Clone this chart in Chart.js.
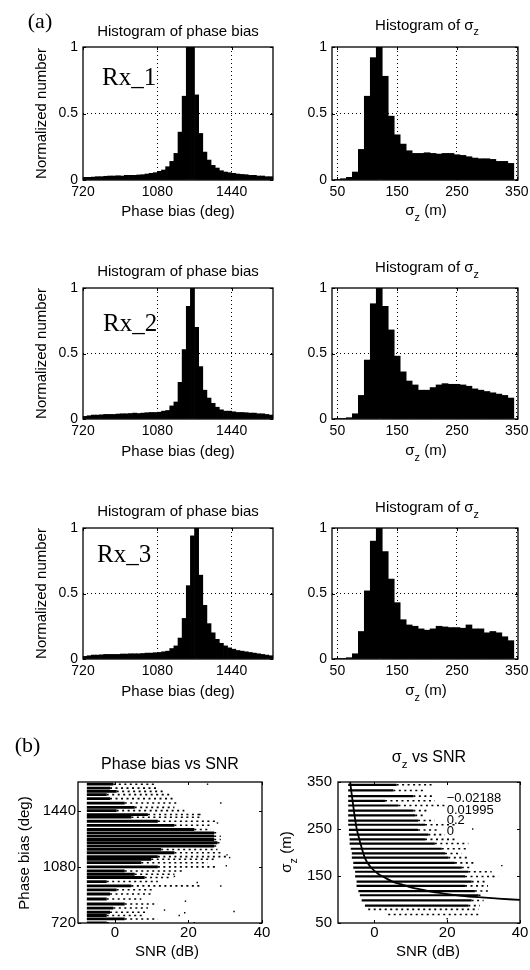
<!DOCTYPE html>
<html>
<head>
<meta charset="UTF-8">
<title>Phase bias and sigma_z</title>
<script src="https://cdn.jsdelivr.net/npm/chart.js@4.4.0/dist/chart.umd.min.js"></script>
<style>
  body { margin: 0; background: #fff; }
  #wrap { position: relative; width: 530px; height: 970px; }
  #wrap canvas { position: absolute; left: 0; top: 0; }
</style>
</head>
<body>
<div id="wrap">
  <canvas id="c1" width="530" height="970"></canvas>
  <canvas id="c2" width="530" height="970"></canvas>
  <canvas id="c3" width="530" height="970"></canvas>
  <canvas id="c4" width="530" height="970"></canvas>
  <canvas id="c5" width="530" height="970"></canvas>
  <canvas id="c6" width="530" height="970"></canvas>
  <canvas id="c7" width="530" height="970"></canvas>
  <canvas id="c8" width="530" height="970"></canvas>
</div>
<script>
// histogram bins (bar centres)
const phaseBins = [730, 750, 770, 790, 810, 830, 850, 870, 890, 910, 930, 950, 970, 990, 1010, 1030,
  1050, 1070, 1090, 1110, 1130, 1150, 1170, 1190, 1210, 1230, 1250, 1270, 1290, 1310, 1330, 1350,
  1370, 1390, 1410, 1430, 1450, 1470, 1490, 1510, 1530, 1550, 1570, 1590, 1610, 1630]
const sigmaBins = [50, 60, 70, 80, 90, 100, 110, 120, 130, 140, 150, 160, 170, 180, 190, 200,
  210, 220, 230, 240, 250, 260, 270, 280, 290, 300, 310, 320, 330, 340]

// normalized counts
const phaseRx1 = [0.02, 0.02, 0.022, 0.025, 0.025, 0.028, 0.03, 0.03, 0.032, 0.03,
  0.035, 0.035, 0.035, 0.038, 0.04, 0.045, 0.05, 0.055, 0.065, 0.075,
  0.1, 0.14, 0.2, 0.36, 0.63, 1, 1, 0.64, 0.35, 0.21,
  0.15, 0.11, 0.09, 0.07, 0.06, 0.055, 0.05, 0.045, 0.042, 0.04,
  0.035, 0.035, 0.03, 0.03, 0.025, 0.025]
const phaseRx2 = [0.02, 0.025, 0.03, 0.03, 0.032, 0.035, 0.035, 0.035, 0.038, 0.04,
  0.04, 0.042, 0.045, 0.042, 0.045, 0.048, 0.05, 0.05, 0.052, 0.06,
  0.065, 0.1, 0.13, 0.28, 0.53, 0.86, 1, 0.7, 0.4, 0.22,
  0.16, 0.12, 0.09, 0.07, 0.06, 0.06, 0.055, 0.05, 0.05, 0.048,
  0.045, 0.045, 0.04, 0.04, 0.035, 0.03]
const phaseRx3 = [0.02, 0.025, 0.03, 0.03, 0.032, 0.035, 0.035, 0.035, 0.035, 0.038,
  0.038, 0.04, 0.04, 0.04, 0.042, 0.045, 0.045, 0.048, 0.05, 0.055,
  0.06, 0.08, 0.1, 0.16, 0.31, 0.56, 0.94, 1, 0.64, 0.41,
  0.27, 0.2, 0.15, 0.12, 0.1, 0.085, 0.075, 0.065, 0.06, 0.055,
  0.05, 0.045, 0.04, 0.035, 0.03, 0.025]
const sigmaRx1 = [0.005, 0.01, 0.02, 0.06, 0.23, 0.63, 0.92, 1, 0.78, 0.48, 0.34, 0.27, 0.22, 0.2, 0.2,
  0.205, 0.2, 0.195, 0.2, 0.2, 0.19, 0.185, 0.175, 0.165, 0.16, 0.16, 0.155, 0.14, 0.14, 0.125]
const sigmaRx2 = [0.005, 0.005, 0.01, 0.04, 0.18, 0.45, 0.88, 1, 0.86, 0.68, 0.48, 0.36, 0.29, 0.26, 0.22,
  0.22, 0.24, 0.26, 0.27, 0.265, 0.265, 0.26, 0.25, 0.23, 0.22, 0.21, 0.2, 0.19, 0.18, 0.16]
const sigmaRx3 = [0.005, 0.005, 0.01, 0.04, 0.21, 0.52, 0.9, 1, 0.82, 0.61, 0.43, 0.3, 0.26, 0.25, 0.23,
  0.22, 0.23, 0.25, 0.245, 0.24, 0.24, 0.235, 0.26, 0.23, 0.23, 0.2, 0.21, 0.2, 0.17, 0.14]

// tick labels
const phaseTicks = [720, 1080, 1440]
const sigmaTicks = [50, 150, 250, 350]
const normTicks = [0, 0.5, 1]
const snrTicks = [0, 20, 40]

// phase bias vs SNR: rows of points (phase level, dense run end, sparse run end, in dB)
const phaseRowStart = -7.6
const phaseRows = [1611, 1586, 1565, 1544, 1518, 1490, 1462, 1441, 1416, 1399, 1373, 1347, 1320,
  1299, 1277, 1256, 1235, 1214, 1192, 1171, 1146, 1129, 1107, 1080, 1054, 1033, 1012, 986,
  958, 933, 906, 874, 842, 816, 789, 768, 746, 721]
const phaseRowDense = [-0.4, -1.3, 0.5, -2.2, -1.3, 2.7, 5.4, 0.5, 9.0, 4.5, 11.7, 16.2, 21.6,
  27.0, 27.0, 27.0, 27.9, 27.0, 12.6, 16.2, 11.7, 9.9, 7.2, 11.7, 2.7, 5.4, 8.1, -2.2,
  4.5, 0.5, -1.3, -2.2, 2.7, -0.4, -1.3, -2.2, 2.7, -2.2]
const phaseRowSparse = [10.8, 11.7, 13.5, 15.3, 16.2, 17.1, 16.2, 18.9, 23.4, 23.4, 27.9, 26.1, 26.1,
  28.0, 28.8, 28.8, 29.0, 28.0, 27.9, 28.8, 30.6, 27.0, 25.2, 27.9, 18.9, 16.2, 15.3, 11.7,
  23.4, 10.8, 9.9, 7.2, 11.7, 9.0, 9.0, 8.1, 11.7, -1.3]
const phaseOutSnr = [25.2, 28.8, 23.1, 27.9, 31.2, 30.3, 16.2, 22.4, 28.8, 19.2, 13.5, 32.4, 17.5, 21.6, 30.5, 19.0]
const phaseOutDeg = [1611, 1490, 1416, 1362, 1140, 1087, 1019, 980, 958, 860, 803, 794, 768, 722, 1157, 786]

// sigma_z vs SNR rows
const sigmaRows = [344, 332, 320, 310, 300, 289, 279, 268, 259, 248, 238, 228, 219, 208,
  198, 189, 178, 168, 159, 149, 138, 129, 118, 109, 98, 87, 79, 68]
const sigmaRowStart = [-7.2, -7.2, -7.2, -7.2, -7.2, -7.2, -7.2, -7.2, -7.2, -7.0, -7.0, -6.8, -6.8, -6.5,
  -6.2, -6.2, -5.8, -5.8, -5.3, -5.3, -4.9, -4.9, -4.4, -4.0, -3.5, -2.6, -1.7, 3.8]
const sigmaRowDense = [6.1, 5.2, 10.7, 2.9, 6.6, 10.7, 11.2, 12.0, 13.9, 12.0, 14.8, 13.9, 16.6, 18.5,
  19.4, 20.3, 22.1, 24.0, 25.8, 24.9, 26.7, 24.9, 27.6, 28.6, 26.7, 25.8, -1.7, 3.8]
const sigmaRowSparse = [15.7, 13.9, 16.6, 16.6, 19.4, 14.8, 13.9, 16.6, 22.1, 17.5, 19.4, 22.1, 25.8, 25.8,
  24.0, 25.8, 27.6, 27.0, 32.2, 34.0, 30.4, 31.2, 32.0, 30.0, 30.0, 29.0, 28.6, 29.5]
const sigmaOutSnr = [20.0, 32.7, 35.0, 27.0]
const sigmaOutVal = [59, 149, 172, 250]

// fitted curve
const fitSnr = [-6.7, -6.2, -5.6, -4.9, -4.0, -2.6, -0.8, 1, 3, 5, 7.5, 10, 13, 16, 19.5, 24, 28.5, 34, 40]
const fitSigma = [352, 322, 287, 252, 224, 188, 167, 155, 146, 138, 132, 126, 121, 116, 112, 108, 105, 102, 99]
const fitLabels = ['\u22120.02188', '0.01995', '0.2', '0']

Chart.defaults.font.family = 'Liberation Sans'
Chart.defaults.color = '#000'

const W = 530, H = 970
const YW = 45, XH = 30   // fixed axis boxes
const sans = 'Liberation Sans', serif = 'Liberation Serif'

function drawRich(ctx, it) {
  const size = it.size || 15, fam = it.family || sans
  const parts = typeof it.text === 'string' ? [[it.text, 0]] : it.text
  ctx.save()
  ctx.translate(it.x, it.y)
  if (it.rot) ctx.rotate(it.rot)
  ctx.fillStyle = '#000'
  ctx.textBaseline = 'middle'
  ctx.textAlign = 'left'
  let total = 0
  const widths = parts.map(p => {
    ctx.font = (p[1] ? size * 0.72 : size) + 'px "' + fam + '"'
    const w = ctx.measureText(p[0]).width
    total += w
    return w
  })
  let x = it.align === 'left' ? 0 : -total / 2
  parts.forEach((p, i) => {
    ctx.font = (p[1] ? size * 0.72 : size) + 'px "' + fam + '"'
    ctx.fillText(p[0], x, p[1] ? size * 0.45 : 0)
    x += widths[i]
  })
  ctx.restore()
}

const textPlugin = items => ({
  id: 'panelText',
  afterDraw(chart) { items.forEach(it => drawRich(chart.ctx, it)) }
})

// box around the plot with inward ticks on all sides
const frame = {
  id: 'frame',
  afterDraw(chart) {
    const {ctx, chartArea: a, scales} = chart
    ctx.save()
    ctx.strokeStyle = '#000'
    ctx.lineWidth = 1
    ctx.beginPath()
    scales.x.ticks.forEach(t => {
      const px = Math.round(scales.x.getPixelForValue(t.value)) + 0.5
      ctx.moveTo(px, a.bottom); ctx.lineTo(px, a.bottom - 3)
      ctx.moveTo(px, a.top); ctx.lineTo(px, a.top + 3)
    })
    scales.y.ticks.forEach(t => {
      const py = Math.round(scales.y.getPixelForValue(t.value)) + 0.5
      ctx.moveTo(a.left, py); ctx.lineTo(a.left + 3, py)
      ctx.moveTo(a.right, py); ctx.lineTo(a.right - 3, py)
    })
    ctx.stroke()
    ctx.lineWidth = 1.3
    ctx.strokeRect(a.left, a.top, a.right - a.left, a.bottom - a.top)
    ctx.restore()
  }
}

function axis(s, dir) {
  return {
    type: 'linear', min: s.min, max: s.max, offset: false,
    afterBuildTicks: sc => { sc.ticks = s.ticks.map(v => ({value: v})) },
    afterFit: sc => {
      if (dir === 'x') { sc.height = XH; sc.paddingLeft = 0; sc.paddingRight = 0 }
      else { sc.width = YW; sc.paddingTop = 0; sc.paddingBottom = 0 }
    },
    grid: {
      display: !!s.grid, drawTicks: false, offset: false, lineWidth: 1,
      color: c => (s.grid && c.tick && s.grid.includes(c.tick.value)) ? '#000' : 'rgba(0,0,0,0)'
    },
    border: { display: false, dash: [1, 3] },
    ticks: {
      color: '#000', font: {family: sans, size: s.font}, padding: s.pad,
      autoSkip: false, maxRotation: 0, minRotation: 0, callback: v => String(v)
    }
  }
}

function build(id, area, type, datasets, xs, ys, texts) {
  return new Chart(document.getElementById(id), {
    type: type,
    data: { datasets: datasets },
    options: {
      responsive: false, animation: false, devicePixelRatio: 1,
      layout: { padding: { left: area[0] - YW, top: area[1], right: W - area[2], bottom: H - area[3] - XH } },
      plugins: { legend: { display: false }, tooltip: { enabled: false } },
      scales: { x: axis(xs, 'x'), y: axis(ys, 'y') }
    },
    plugins: [frame, textPlugin(texts)]
  })
}

const phaseAxis = {min: 720, max: 1640, ticks: phaseTicks, grid: [1080, 1440], font: 14, pad: 4}
const sigmaAxis = {min: 41, max: 352, ticks: sigmaTicks, grid: [50, 150, 250, 350], font: 14, pad: 4}
const normAxis = {min: 0, max: 1, ticks: normTicks, grid: [0.5], font: 14, pad: 5}
const snrAxis = {min: -10, max: 40, ticks: snrTicks, font: 15, pad: 1}
const phaseYAxis = {min: 720, max: 1625, ticks: phaseTicks, font: 15, pad: 2}
const sigmaYAxis = {min: 50, max: 350, ticks: sigmaTicks, font: 15, pad: 6}

function bars(bins, values) {
  return [{
    data: bins.map((b, i) => ({x: b, y: values[i]})),
    backgroundColor: '#000', borderWidth: 0, barPercentage: 1, categoryPercentage: 1
  }]
}

const sigmaSub = [['\u03c3', 0], ['z', 1]]
const histTitle = [['Histogram of \u03c3', 0], ['z', 1]]
const sigmaLabel = sigmaSub.concat([[' (m)', 0]])

const rows = [
  {id: 'c1', id2: 'c2', top: 47, bottom: 180, phase: phaseRx1, sigma: sigmaRx1, rx: 'Rx_1', rxX: 102, rxY: 78.5,
    t1: 31.7, t2: 25.5, x1: 212, x2: 211},
  {id: 'c3', id2: 'c4', top: 288, bottom: 419, phase: phaseRx2, sigma: sigmaRx2, rx: 'Rx_2', rxX: 103, rxY: 324,
    t1: 272.3, t2: 268, x1: 451.7, x2: 451},
  {id: 'c5', id2: 'c6', top: 528, bottom: 659, phase: phaseRx3, sigma: sigmaRx3, rx: 'Rx_3', rxX: 97, rxY: 555,
    t1: 512, t2: 508, x1: 691.7, x2: 691}
]

rows.forEach((r, k) => {
  const leftTexts = [
    {x: 178, y: r.t1, text: 'Histogram of phase bias'},
    {x: 178, y: r.x1, text: 'Phase bias (deg)'},
    {x: 42, y: (r.top + r.bottom) / 2, text: 'Normalized number', rot: -Math.PI / 2},
    {x: r.rxX, y: r.rxY, text: r.rx, size: 25, family: serif, align: 'left'}
  ]
  if (k === 0) leftTexts.push({x: 40, y: 22.5, text: '(a)', size: 22, family: serif})
  build(r.id, [83, r.top, 273, r.bottom], 'bar', bars(phaseBins, r.phase), phaseAxis, normAxis, leftTexts)
  build(r.id2, [332, r.top, 518, r.bottom], 'bar', bars(sigmaBins, r.sigma), sigmaAxis, normAxis, [
    {x: 427, y: r.t2, text: histTitle},
    {x: 426, y: r.x2, text: sigmaLabel}
  ])
})

function segments(levels, from, to) {
  const pts = []
  levels.forEach((lv, i) => {
    pts.push({x: from[i], y: lv}, {x: to[i], y: lv}, {x: to[i], y: null})
  })
  return pts
}

function scatterSets(levels, start, dense, sparse, outX, outY, w) {
  return [
    { data: segments(levels, start, dense), showLine: true, pointRadius: 0, borderColor: '#000', borderWidth: w },
    { data: segments(levels, dense, sparse), showLine: true, pointRadius: 0, borderColor: '#000', borderWidth: 1.6,
      borderDash: [2, 3.5] },
    { data: outX.map((v, i) => ({x: v, y: outY[i]})), pointRadius: 1, pointStyle: 'rect',
      backgroundColor: '#000', borderWidth: 0 }
  ]
}

build('c7', [78, 782, 262, 923], 'scatter',
  scatterSets(phaseRows, phaseRows.map(() => phaseRowStart), phaseRowDense, phaseRowSparse, phaseOutSnr, phaseOutDeg, 2.8),
  snrAxis, phaseYAxis, [
    {x: 170, y: 765, text: 'Phase bias vs SNR', size: 16},
    {x: 167, y: 952, text: 'SNR (dB)'},
    {x: 25, y: 853, text: 'Phase bias (deg)', rot: -Math.PI / 2},
    {x: 27.5, y: 746, text: '(b)', size: 22, family: serif}
  ])

const sigmaSets = scatterSets(sigmaRows, sigmaRowStart, sigmaRowDense, sigmaRowSparse, sigmaOutSnr, sigmaOutVal, 2.2)
sigmaSets.push({
  data: fitSnr.map((v, i) => ({x: v, y: fitSigma[i]})), showLine: true, pointRadius: 0,
  borderColor: '#000', borderWidth: 1.8, cubicInterpolationMode: 'monotone'
})
const legendTexts = fitLabels.map((t, i) => ({x: 446.7, y: [798.7, 810.3, 820.7, 831.3][i], text: t, size: 13, align: 'left'}))

build('c8', [338, 782, 520, 923], 'scatter', sigmaSets, snrAxis, sigmaYAxis, [
  {x: 429, y: 758, text: sigmaSub.concat([[' vs SNR', 0]]), size: 16},
  {x: 428, y: 952, text: 'SNR (dB)'},
  {x: 287, y: 852, text: sigmaLabel, rot: -Math.PI / 2}
].concat(legendTexts))
</script>
</body>
</html>
